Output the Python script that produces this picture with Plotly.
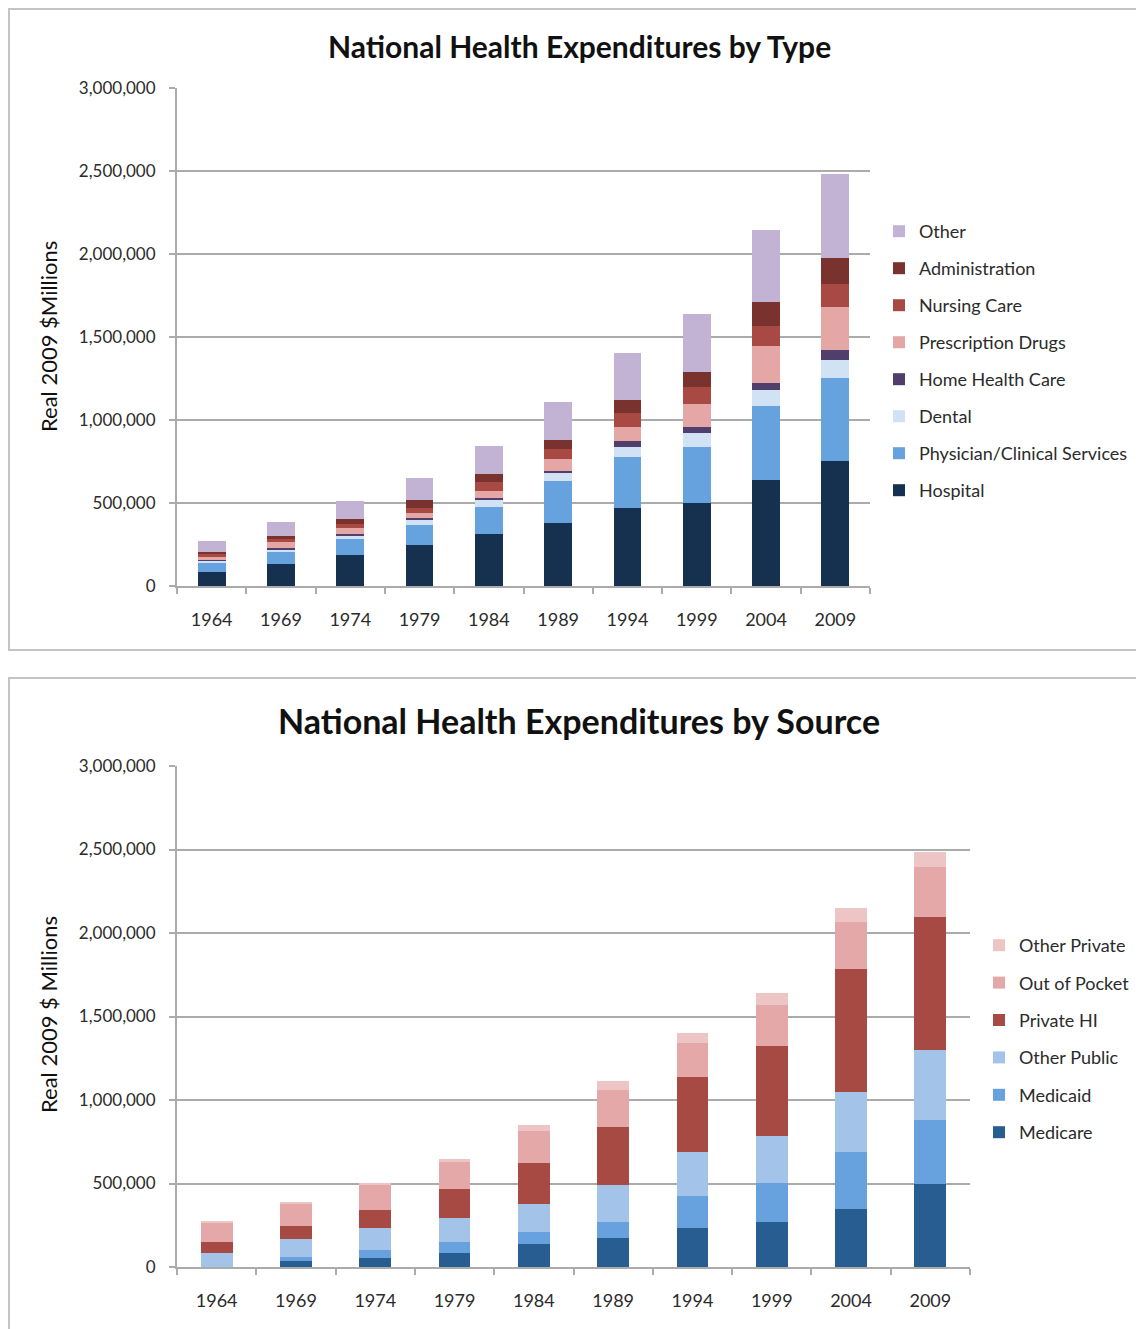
import plotly.graph_objects as go

# page offset (body margin) compensation
OFF = 8
W, H = 1144 - OFF, 1329 - OFF

years = ["1964", "1969", "1974", "1979", "1984", "1989", "1994", "1999", "2004", "2009"]

# ---- By Type (Real 2009 $Millions) ----
hospital = [83000, 132000, 184000, 245000, 316000, 380000, 470000, 500000, 636000, 754000]
physician = [59000, 74000, 97000, 121000, 160000, 254000, 308000, 340000, 448000, 500000]
dental = [10000, 13000, 21000, 29000, 40000, 46000, 60000, 80000, 94000, 110000]
home_health = [4000, 10000, 14000, 14000, 16000, 14000, 38000, 40000, 46000, 60000]
prescription = [16000, 34000, 34000, 30000, 41000, 70000, 82000, 136000, 222000, 256000]
nursing = [18000, 20000, 24000, 33000, 52000, 62000, 82000, 102000, 118000, 140000]
administration = [16000, 17000, 29000, 44000, 49000, 56000, 78000, 90000, 146000, 154000]
other = [63000, 87000, 107000, 134000, 172000, 228000, 284000, 352000, 432000, 510000]

# ---- By Source (Real 2009 $ Millions) ----
medicare = [0, 36000, 52000, 86000, 135000, 171000, 235000, 271000, 347000, 500000]
medicaid = [0, 26000, 50000, 61000, 74000, 100000, 193000, 233000, 340000, 382000]
other_public = [84000, 107000, 129000, 146000, 171000, 219000, 261000, 283000, 359000, 415000]
private_hi = [63000, 76000, 112000, 173000, 245000, 347000, 448000, 538000, 739000, 797000]
out_of_pocket = [122000, 133000, 151000, 161000, 189000, 223000, 204000, 243000, 283000, 302000]
other_private = [5000, 10000, 10000, 20000, 36000, 56000, 63000, 75000, 81000, 90000]

type_series = [
    ("Hospital", hospital, "#15314f"),
    ("Physician/Clinical Services", physician, "#66a2dd"),
    ("Dental", dental, "#d0e2f4"),
    ("Home Health Care", home_health, "#503e6c"),
    ("Prescription Drugs", prescription, "#e4a7a5"),
    ("Nursing Care", nursing, "#a84a43"),
    ("Administration", administration, "#7a322e"),
    ("Other", other, "#c2b3d5"),
]
source_series = [
    ("Medicare", medicare, "#285d91"),
    ("Medicaid", medicaid, "#67a2de"),
    ("Other Public", other_public, "#a3c4e8"),
    ("Private HI", private_hi, "#a64a43"),
    ("Out of Pocket", out_of_pocket, "#e3a8a7"),
    ("Other Private", other_private, "#edc5c5"),
]

FONT = "Lato, 'Open Sans', sans-serif"
AX = "#ababab"
TXT = "#2b2b2b"


def px_x(p):
    return (p - OFF) / W


def px_y(p):
    return (H - (p - OFF)) / H


fig = go.Figure()
n_t = len(type_series)
for i, (name, vals, col) in enumerate(type_series):
    fig.add_trace(go.Bar(x=years, y=vals, name=name, marker=dict(color=col, line=dict(width=0)),
                         xaxis="x", yaxis="y", legend="legend", legendgroup="t_" + name,
                         legendrank=n_t - i))
n_s = len(source_series)
for i, (name, vals, col) in enumerate(source_series):
    fig.add_trace(go.Bar(x=years, y=vals, name=name, marker=dict(color=col, line=dict(width=0)),
                         xaxis="x2", yaxis="y2", legend="legend2", legendgroup="s_" + name,
                         legendrank=n_s - i))

xax = dict(type="category", showline=True, linecolor=AX, linewidth=2, ticks="outside",
           tickson="boundaries", ticklen=6, tickcolor=AX, tickwidth=1.5, showgrid=False,
           tickfont=dict(family=FONT, size=18, color=TXT), ticklabelstandoff=16,
           automargin=False)
yax = dict(range=[0, 3000000], dtick=500000, tickformat=",", showgrid=True, gridcolor=AX,
           gridwidth=2, showline=True, linecolor=AX, linewidth=2, ticks="outside", ticklen=6,
           tickcolor=AX, tickwidth=1.5, zeroline=False, automargin=False,
           tickfont=dict(family=FONT, size=17, color=TXT), ticklabelstandoff=10)

legend_common = dict(font=dict(family=FONT, size=18, color=TXT), traceorder="grouped",
                     bgcolor="rgba(0,0,0,0)", xanchor="left", yanchor="top")

fig.update_layout(
    width=W, height=H, margin=dict(l=0, r=0, t=0, b=0, autoexpand=False),
    paper_bgcolor="white", plot_bgcolor="white",
    barmode="stack", bargap=0.6,
    xaxis=dict(xax, domain=[px_x(177), px_x(870)], anchor="y"),
    yaxis=dict(yax, domain=[px_y(586), px_y(88)], anchor="x"),
    xaxis2=dict(xax, domain=[px_x(177), px_x(970)], anchor="y2"),
    yaxis2=dict(yax, domain=[px_y(1267), px_y(766)], anchor="x2"),
    legend=dict(legend_common, x=px_x(879), y=px_y(213), tracegroupgap=10.6),
    legend2=dict(legend_common, x=px_x(979), y=px_y(927), tracegroupgap=11),
    showlegend=True,
    shapes=[
        dict(type="rect", xref="paper", yref="paper", x0=px_x(9), x1=1.05, y0=px_y(650), y1=px_y(9),
             line=dict(color="#c4c4c4", width=2), fillcolor="rgba(0,0,0,0)", layer="below"),
        dict(type="rect", xref="paper", yref="paper", x0=px_x(9), x1=1.05, y0=-0.05, y1=px_y(678),
             line=dict(color="#c4c4c4", width=2), fillcolor="rgba(0,0,0,0)", layer="below"),
    ],
    annotations=[
        dict(text="<b>National Health Expenditures by Type</b>", xref="paper", yref="paper",
             x=px_x(579), y=px_y(46), showarrow=False, xanchor="center", yanchor="middle",
             font=dict(family=FONT, size=30, color="#111")),
        dict(text="<b>National Health Expenditures by Source</b>", xref="paper", yref="paper",
             x=px_x(579), y=px_y(721), showarrow=False, xanchor="center", yanchor="middle",
             font=dict(family=FONT, size=34, color="#111")),
        dict(text="Real 2009 $Millions", xref="paper", yref="paper", x=px_x(48), y=px_y(337),
             showarrow=False, textangle=-90, xanchor="center", yanchor="middle",
             font=dict(family=FONT, size=22, color="#111")),
        dict(text="Real 2009 $ Millions", xref="paper", yref="paper", x=px_x(48), y=px_y(1015),
             showarrow=False, textangle=-90, xanchor="center", yanchor="middle",
             font=dict(family=FONT, size=22, color="#111")),
    ],
)

fig.write_html("out.html")
